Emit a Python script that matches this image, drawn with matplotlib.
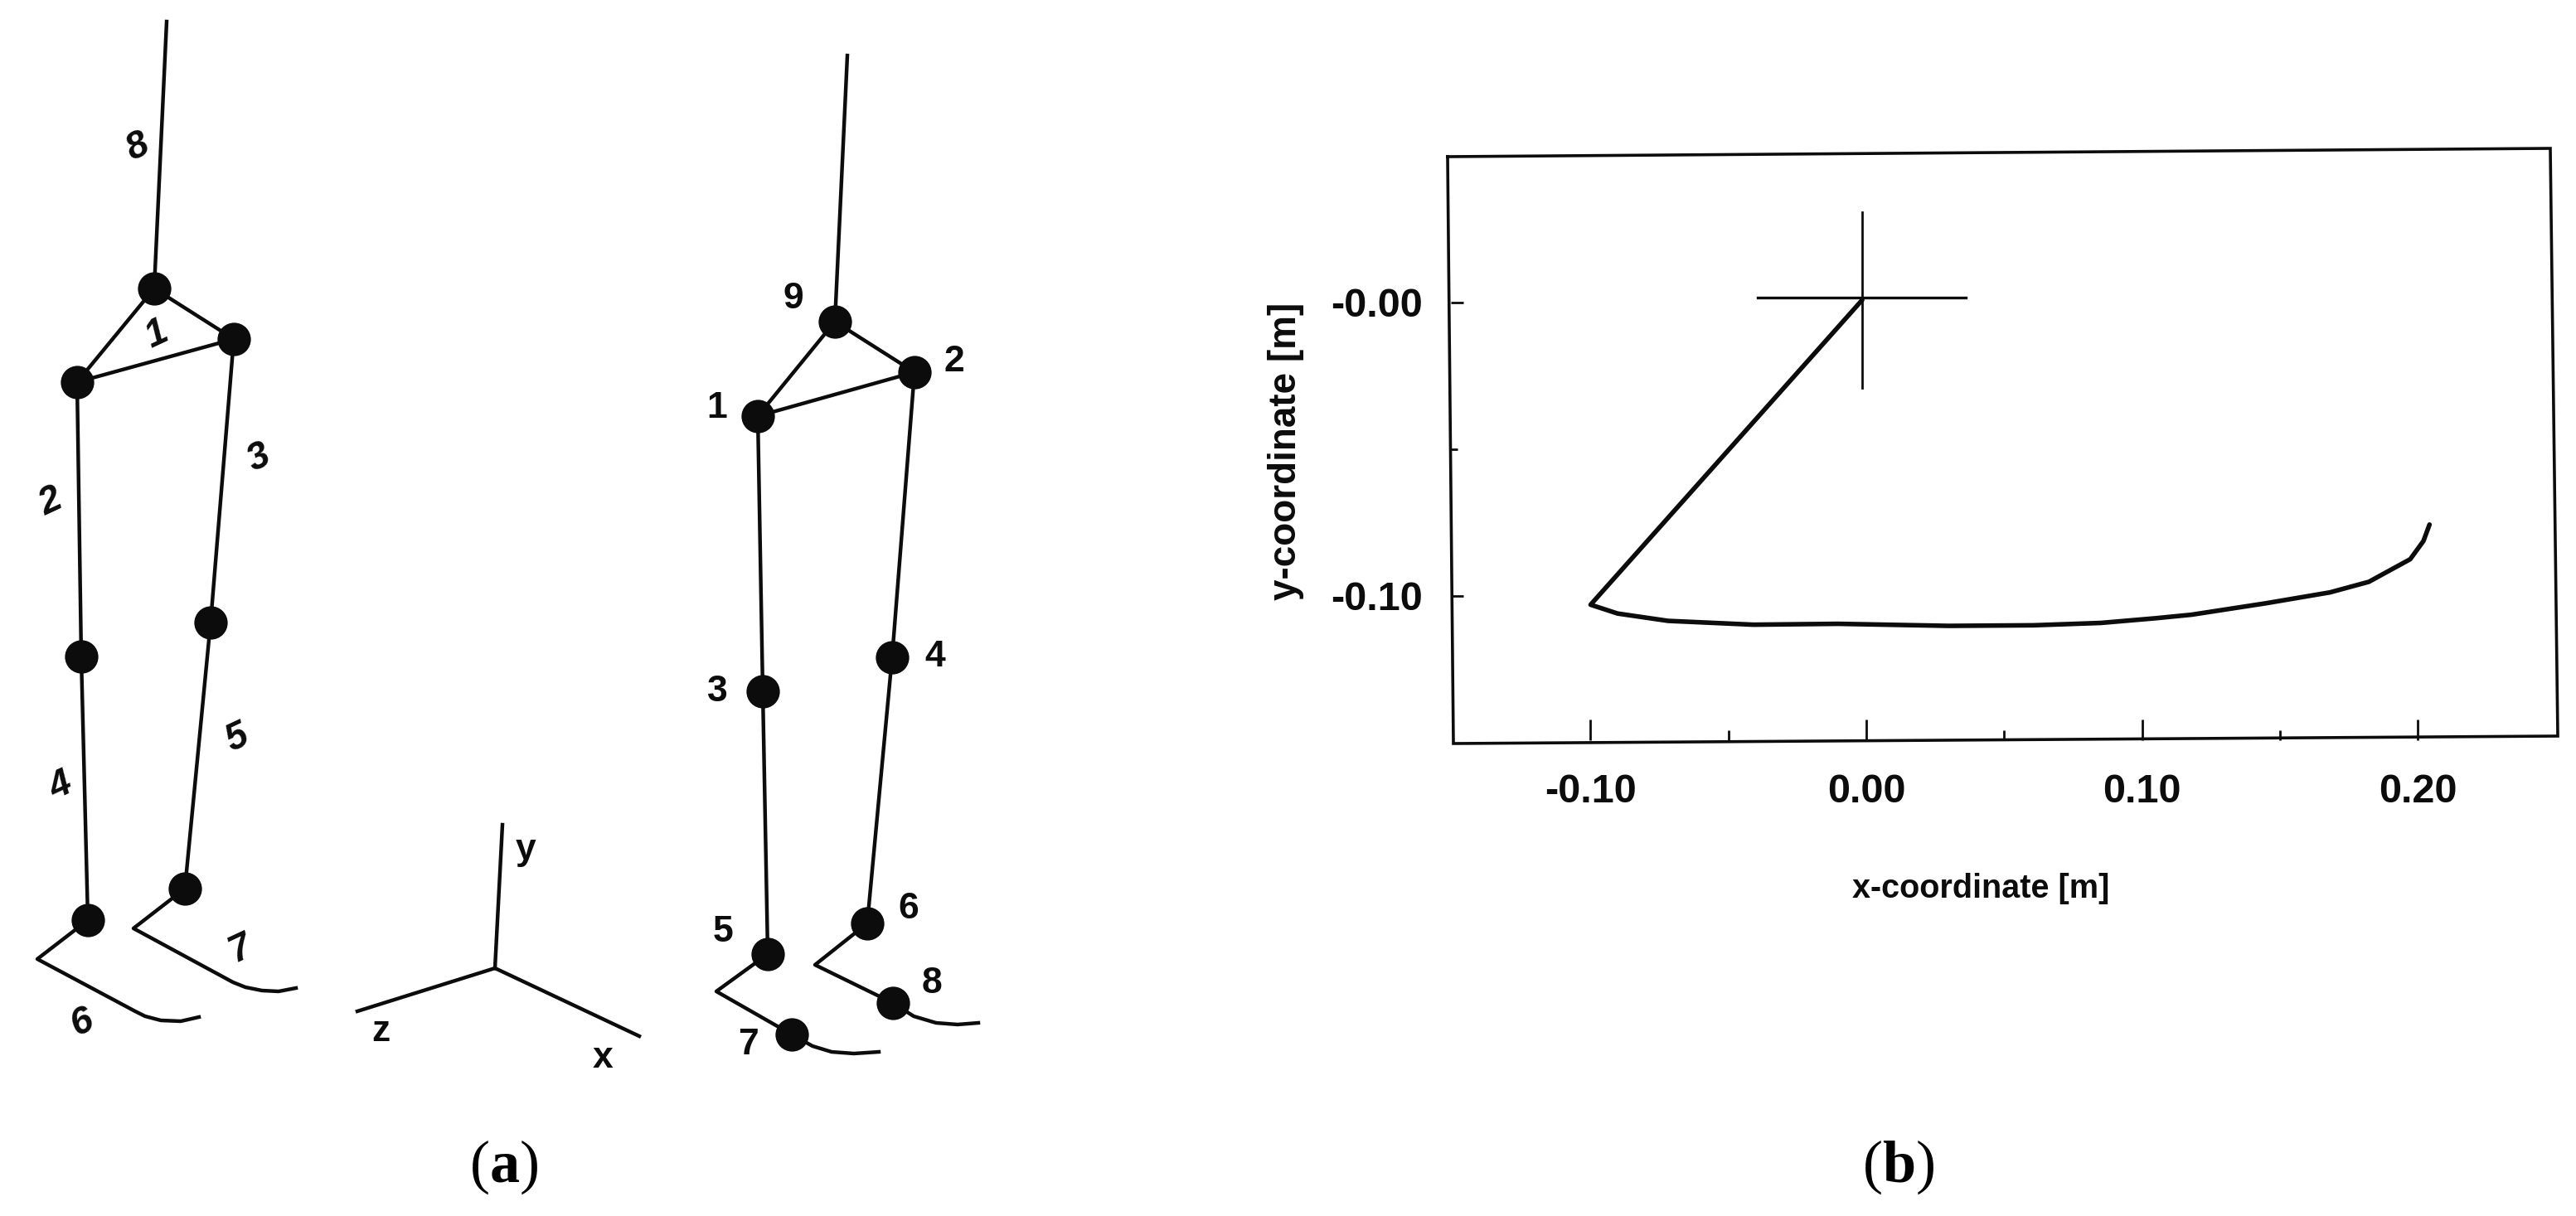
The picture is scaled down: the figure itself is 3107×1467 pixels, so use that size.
import matplotlib
matplotlib.use("Agg")
import matplotlib.pyplot as plt

plt.rcParams["font.family"] = ["Liberation Sans", "DejaVu Sans"]
plt.rcParams["mathtext.fontset"] = "custom"
plt.rcParams["mathtext.rm"] = "Liberation Serif"
plt.rcParams["mathtext.bf"] = "Liberation Serif:bold"

INK = "#0c0c0c"

# panel (a): stick figures in pixel units
# left figure
left_pole_x = [201, 186]
left_pole_y = [26, 348]
left_pelvis_x = [93, 186, 282, 93]
left_pelvis_y = [461, 348, 409, 461]
left_leg1_x = [93, 98, 106]
left_leg1_y = [461, 792, 1110]
left_leg2_x = [282, 254, 223]
left_leg2_y = [409, 751, 1072]
left_foot1_x = [106, 45, 163, 175, 194, 218, 240]
left_foot1_y = [1110, 1157, 1220, 1226, 1231, 1232, 1227]
left_foot2_x = [223, 161, 281, 296, 316, 336, 357]
left_foot2_y = [1072, 1120, 1185, 1191, 1195, 1196, 1192]
left_nodes_x = [186, 282, 93, 98, 254, 106, 223]
left_nodes_y = [348, 409, 461, 792, 751, 1110, 1072]
left_labels = ["8", "1", "2", "3", "4", "5", "6", "7"]
left_labels_x = [166, 189, 61, 312, 73, 286, 99, 290]
left_labels_y = [178, 404, 606, 553, 949, 891, 1234, 1145]

# right figure
right_pole_x = [1022, 1007]
right_pole_y = [67, 388]
right_pelvis_x = [914, 1007, 1103, 914]
right_pelvis_y = [502, 388, 449, 502]
right_leg1_x = [914, 920, 926]
right_leg1_y = [502, 834, 1151]
right_leg2_x = [1103, 1076, 1046]
right_leg2_y = [449, 793, 1114]
right_foot1_x = [926, 864, 955, 980, 1003, 1030, 1060]
right_foot1_y = [1151, 1196, 1248, 1262, 1269, 1271, 1269]
right_foot2_x = [1046, 983, 1077, 1102, 1129, 1155, 1180]
right_foot2_y = [1114, 1164, 1210, 1226, 1234, 1236, 1234]
right_nodes_x = [1007, 1103, 914, 920, 1076, 926, 1046, 955, 1077]
right_nodes_y = [388, 449, 502, 834, 793, 1151, 1114, 1248, 1210]
right_labels = ["9", "2", "1", "3", "4", "5", "6", "8", "7"]
right_labels_x = [957, 1151, 865, 865, 1128, 872, 1096, 1124, 903]
right_labels_y = [360, 436, 493, 835, 792, 1124, 1096, 1187, 1260]

# coordinate cross
cross_x_axis_x = [597, 771]
cross_x_axis_y = [1168, 1250]
cross_y_axis_x = [597, 606]
cross_y_axis_y = [1168, 995]
cross_z_axis_x = [597, 431]
cross_z_axis_y = [1168, 1220]
cross_labels = ["x", "y", "z"]
cross_labels_x = [727, 634, 459]
cross_labels_y = [1276, 1026, 1245]

# panel (b): hand path in metres
path_x = [-0.0015, -0.1000, -0.0902, -0.0719, -0.0409, -0.0102, 0.0298, 0.0607,
          0.0850, 0.1049, 0.1179, 0.1449, 0.1681, 0.1822, 0.1972, 0.2020, 0.2042]
path_y = [0.0008, -0.1030, -0.1060, -0.1085, -0.1098, -0.1095, -0.1102, -0.1100,
          -0.1092, -0.1076, -0.1064, -0.1025, -0.0988, -0.0952, -0.0875, -0.0813, -0.0757]
target_h_x = [-0.0394, 0.0361]
target_h_y = [0.0015, 0.0015]
target_v_x = [-0.0015, -0.0015]
target_v_y = [0.0308, -0.0291]
x_major = [-0.10, 0.00, 0.10, 0.20]
x_minor = [-0.05, 0.05, 0.15]
x_ticklabels = ["-0.10", "0.00", "0.10", "0.20"]
y_major = [0.00, -0.10]
y_minor = [-0.05]
y_ticklabels = ["-0.00", "-0.10"]

# the scanned frame sits slightly tilted
frame_x = [1746, 3076, 3085, 1753, 1746]
frame_y = [189, 179, 888, 897, 189]

fig = plt.figure(figsize=(31.07, 14.67), dpi=100)

# whole-figure axes in pixel units for the drawing on the left
canvas = fig.add_axes([0, 0, 1, 1])
canvas.set_xlim(0, 3107)
canvas.set_ylim(1467, 0)
canvas.axis("off")

for xs, ys in [(left_pole_x, left_pole_y), (left_pelvis_x, left_pelvis_y),
               (left_leg1_x, left_leg1_y), (left_leg2_x, left_leg2_y),
               (left_foot1_x, left_foot1_y), (left_foot2_x, left_foot2_y),
               (right_pole_x, right_pole_y), (right_pelvis_x, right_pelvis_y),
               (right_leg1_x, right_leg1_y), (right_leg2_x, right_leg2_y),
               (right_foot1_x, right_foot1_y), (right_foot2_x, right_foot2_y),
               (cross_x_axis_x, cross_x_axis_y), (cross_y_axis_x, cross_y_axis_y),
               (cross_z_axis_x, cross_z_axis_y)]:
    canvas.plot(xs, ys, color=INK, lw=3.2, solid_joinstyle="round")

canvas.plot(left_nodes_x, left_nodes_y, "o", color=INK, ms=29, mew=0)
canvas.plot(right_nodes_x, right_nodes_y, "o", color=INK, ms=29, mew=0)

for t, x, y in zip(left_labels, left_labels_x, left_labels_y):
    canvas.text(x, y, t, fontsize=33, fontweight="bold", fontstyle="italic",
                rotation=25, ha="center", va="center", color=INK)
for t, x, y in zip(right_labels, right_labels_x, right_labels_y):
    canvas.text(x, y, t, fontsize=32, fontweight="bold", ha="center", va="center", color=INK)
for t, x, y in zip(cross_labels, cross_labels_x, cross_labels_y):
    canvas.text(x, y, t, fontsize=32, fontweight="bold", ha="center", va="center", color=INK)

canvas.text(608, 1408, r"($\mathbf{a}$)", fontsize=52, family="Liberation Serif",
            ha="center", va="center", color="black")
canvas.text(2290, 1408, r"($\mathbf{b}$)", fontsize=52, family="Liberation Serif",
            ha="center", va="center", color="black")

canvas.plot(frame_x, frame_y, color=INK, lw=2.6, solid_joinstyle="miter")

# plot on the right
ax = fig.add_axes([1749.5 / 3107, 1 - 892.5 / 1467, 1330.5 / 3107, 708.5 / 1467])
ax.patch.set_alpha(0)
ax.plot(path_x, path_y, color=INK, lw=4, solid_joinstyle="round", solid_capstyle="round")
ax.plot(target_h_x, target_h_y, color=INK, lw=2.4)
ax.plot(target_v_x, target_v_y, color=INK, lw=2)
ax.set_xlim(-0.1508, 0.2492)
ax.set_ylim(-0.149, 0.051)

ax.set_xticks(x_major)
ax.set_xticklabels(x_ticklabels, fontweight="bold")
ax.set_xticks(x_minor, minor=True)
ax.set_yticks(y_major)
ax.set_yticklabels(y_ticklabels, fontweight="bold")
ax.set_yticks(y_minor, minor=True)
ax.tick_params(axis="x", which="major", direction="in", length=18, width=2, pad=29,
               labelsize=35, colors=INK)
ax.tick_params(axis="x", which="minor", direction="in", length=9, width=2, colors=INK)
ax.tick_params(axis="y", which="major", direction="in", length=11, width=2, pad=24,
               labelsize=35, colors=INK)
ax.tick_params(axis="y", which="minor", direction="in", length=6, width=2, colors=INK)
for s in ax.spines.values():
    s.set_visible(False)

canvas.text(2389, 1072, "x-coordinate [m]", fontsize=28.5, fontweight="bold",
            ha="center", va="center", color=INK)
canvas.text(1551, 544, "y-coordinate [m]", fontsize=33, fontweight="bold",
            rotation=90, ha="center", va="center", color=INK)

fig.savefig("out.png", dpi=100)
